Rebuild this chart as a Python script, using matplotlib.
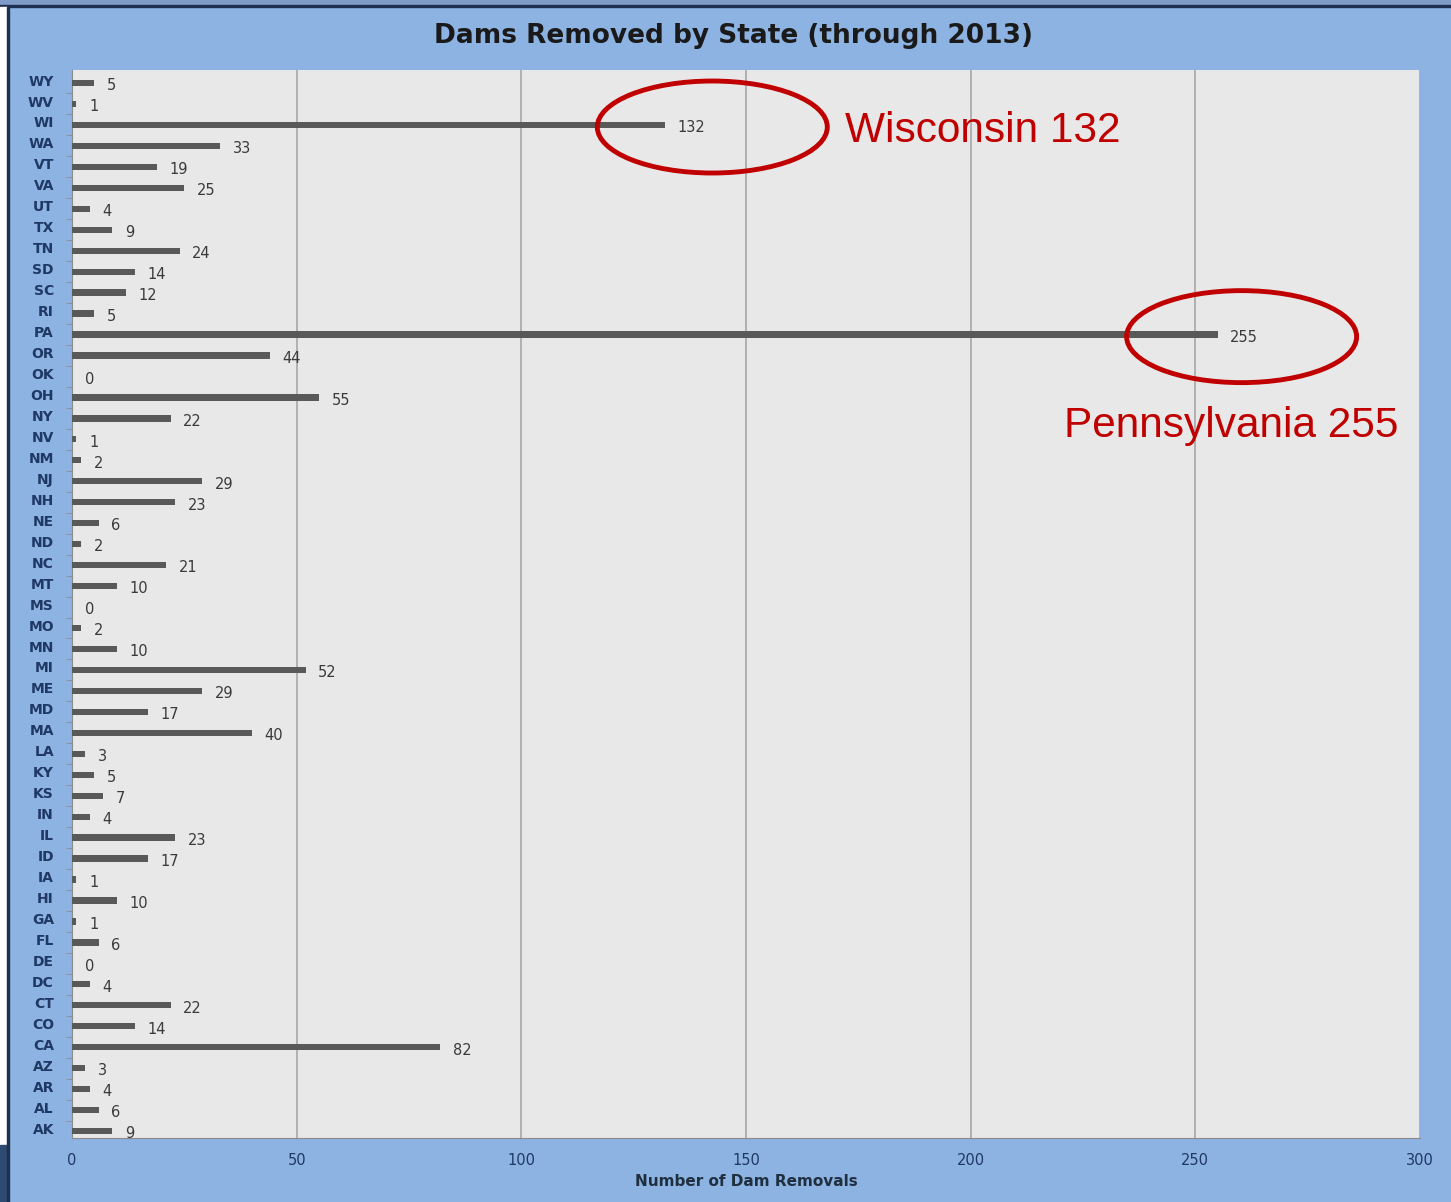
import matplotlib
matplotlib.use("Agg")
import matplotlib.pyplot as plt
from matplotlib.patches import Ellipse, Rectangle

states = ["AK", "AL", "AR", "AZ", "CA", "CO", "CT", "DC", "DE", "FL", "GA", "HI", "IA",
          "ID", "IL", "IN", "KS", "KY", "LA", "MA", "MD", "ME", "MI", "MN", "MO", "MS",
          "MT", "NC", "ND", "NE", "NH", "NJ", "NM", "NV", "NY", "OH", "OK", "OR", "PA",
          "RI", "SC", "SD", "TN", "TX", "UT", "VA", "VT", "WA", "WI", "WV", "WY"]
removals = [9, 6, 4, 3, 82, 14, 22, 4, 0, 6, 1, 10, 1,
            17, 23, 4, 7, 5, 3, 40, 17, 29, 52, 10, 2, 0,
            10, 21, 2, 6, 23, 29, 2, 1, 22, 55, 0, 44, 255,
            5, 12, 14, 24, 9, 4, 25, 19, 33, 132, 1, 5]
x_ticks = [0, 50, 100, 150, 200, 250, 300]
title = "Dams Removed by State (through 2013)"
xlabel = "Number of Dam Removals"
callouts = [("WI", "Wisconsin 132"), ("PA", "Pennsylvania 255")]

W, H = 1451, 1202
fig = plt.figure(figsize=(W / 100, H / 100), dpi=100, facecolor="#8DB3E2")

# decorative frame strips
fig.patches.append(Rectangle((0, 1 - 5 / H), 1, 5 / H, transform=fig.transFigure,
                             color="#7F9CC8", zorder=0))
fig.patches.append(Rectangle((0, 1 - 7 / H), 1, 2 / H, transform=fig.transFigure,
                             color="#1F2F4F", zorder=0))
fig.patches.append(Rectangle((0, 57 / H), 7 / W, 1 - 64 / H, transform=fig.transFigure,
                             color="white", zorder=0))
fig.patches.append(Rectangle((0, 0), 7 / W, 57 / H, transform=fig.transFigure,
                             color="#2E4A70", zorder=0))
fig.patches.append(Rectangle((7 / W, 0), 2 / W, 1 - 7 / H, transform=fig.transFigure,
                             color="#1F2F4F", zorder=0))

ax = fig.add_axes([72 / W, 1 - 1138 / H, (1420 - 72) / W, (1138 - 70) / H])
ax.set_facecolor("#E8E8E8")

ypos = list(range(len(states)))
ax.barh(ypos, removals, height=0.3, color="#595959", zorder=3)
for y, v in zip(ypos, removals):
    ax.annotate(str(v), (v, y), xytext=(9, -2), textcoords="offset points",
                ha="left", va="center", fontsize=10.5, color="#3A3A3A", zorder=4)

ax.set_xlim(0, 300)
ax.set_ylim(-0.33, len(states) - 1 + 0.62)
ax.set_xticks(x_ticks)
ax.set_xticklabels([str(t) for t in x_ticks], color="#1F3864", fontsize=10.5)
# category labels sit slightly above the bar centre, as in the original
ax.set_yticks([y + 0.14 for y in ypos])
ax.set_yticklabels(states, color="#1F3864", fontsize=10, fontweight="bold")
ax.set_yticks([y + 0.5 for y in ypos[:-1]], minor=True)
ax.tick_params(axis="y", which="major", length=0, pad=13)
ax.tick_params(axis="y", which="minor", length=4, color="#8C8C8C")
ax.tick_params(axis="x", length=0, pad=11)
ax.grid(axis="x", color="#A6A6A6", linewidth=1.2, zorder=1)
ax.set_axisbelow(True)
for s in ["top", "right"]:
    ax.spines[s].set_visible(False)
ax.spines["bottom"].set_color("#8C8C8C")
ax.spines["left"].set_color("#8C8C8C")

ax.set_xlabel(xlabel, fontsize=11, fontweight="bold", color="#1F2F3F", labelpad=4)
fig.text(733 / W, 1 - 36 / H, title, ha="center", va="center", fontsize=19,
         fontweight="bold", color="#1A1A1A")

# callout ellipses and labels
px_per_unit = (1420 - 72) / 300
row_px = (1138 - 70) / (len(states) - 1 + 0.95)
ell_w = 230 / px_per_unit
ell_h = 92 / row_px
for st, txt in callouts:
    i = states.index(st)
    v = removals[i]
    cx = v + 10.5 if st == "WI" else v + 5.3
    cy = i - 0.1
    ax.add_patch(Ellipse((cx, cy), ell_w, ell_h, fill=False, edgecolor="#C00000",
                         linewidth=3.5, zorder=5, clip_on=False))

fig.text(845 / W, 1 - 131 / H, callouts[0][1], ha="left", va="center", fontsize=30.5,
         color="#C00000", family="Liberation Sans")
fig.text(1064 / W, 1 - 426 / H, callouts[1][1], ha="left", va="center", fontsize=30.5,
         color="#C00000", family="Liberation Sans")

fig.savefig("out.png", dpi=100, facecolor=fig.get_facecolor())
